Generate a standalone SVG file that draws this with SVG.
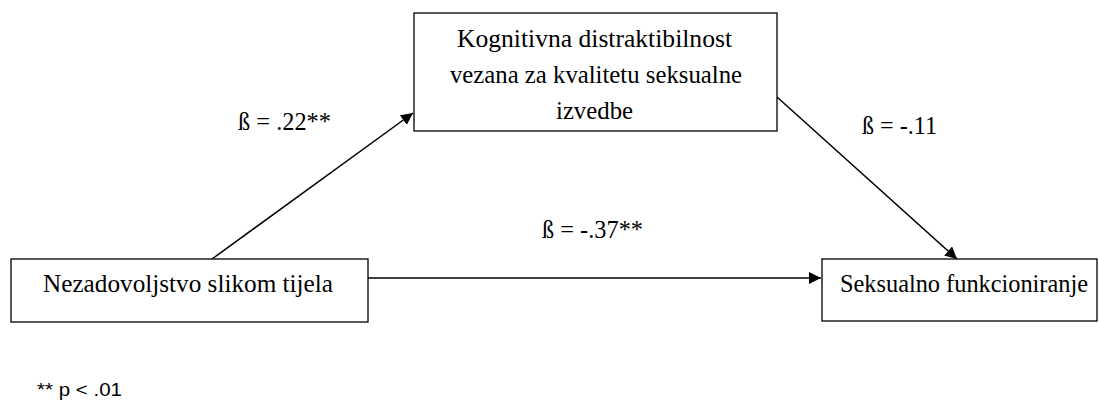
<svg xmlns="http://www.w3.org/2000/svg" width="1099" height="400" viewBox="0 0 1099 400">
<style>
.box{fill:#fff;stroke:#000;stroke-width:1.3}
.edge{stroke:#000;stroke-width:1.5;fill:none}
.t{font-family:'Liberation Serif','Times New Roman',serif;font-size:26px;fill:#000}
.n{font-family:'Liberation Sans',Arial,sans-serif;font-size:18px;fill:#000}
</style>
<defs>
<marker id="ah" viewBox="0 0 10 10" refX="10" refY="5" markerWidth="12" markerHeight="12" markerUnits="userSpaceOnUse" orient="auto">
<path d="M0,0 L10,5 L0,10 z" fill="#000"/>
</marker>
</defs>
<rect width="1099" height="400" fill="#fff"/>
<g id="connectors">
<line class="edge" x1="212" y1="259" x2="413" y2="113" marker-end="url(#ah)"/>
<line class="edge" x1="777" y1="97" x2="957" y2="259" marker-end="url(#ah)"/>
<line class="edge" x1="368" y1="278" x2="821" y2="278" marker-end="url(#ah)"/>
</g>
<g id="node-mediator">
<rect class="box" x="414" y="13" width="363" height="118"/>
<text class="t" x="457" y="47" textLength="275" lengthAdjust="spacingAndGlyphs">Kognitivna distraktibilnost</text>
<text class="t" x="450" y="83" textLength="292" lengthAdjust="spacingAndGlyphs">vezana za kvalitetu seksualne</text>
<text class="t" x="556" y="119" textLength="77" lengthAdjust="spacingAndGlyphs">izvedbe</text>
</g>
<g id="node-predictor">
<rect class="box" x="11" y="259" width="357" height="63"/>
<text class="t" x="43" y="292" textLength="290" lengthAdjust="spacingAndGlyphs">Nezadovoljstvo slikom tijela</text>
</g>
<g id="node-outcome">
<rect class="box" x="822" y="259" width="275" height="62"/>
<text class="t" x="840" y="292" font-size="24.4" style="font-size:24.4px" textLength="248" lengthAdjust="spacingAndGlyphs">Seksualno funkcioniranje</text>
</g>
<g id="labels">
<text class="t" x="238" y="130" textLength="93" lengthAdjust="spacingAndGlyphs">ß = .22**</text>
<text class="t" x="862" y="134" textLength="75" lengthAdjust="spacingAndGlyphs">ß = -.11</text>
<text class="t" x="542" y="238" textLength="101" lengthAdjust="spacingAndGlyphs">ß = -.37**</text>
</g>
<text id="note" class="n" x="37" y="396" textLength="85" lengthAdjust="spacingAndGlyphs">** p &lt; .01</text>
</svg>
